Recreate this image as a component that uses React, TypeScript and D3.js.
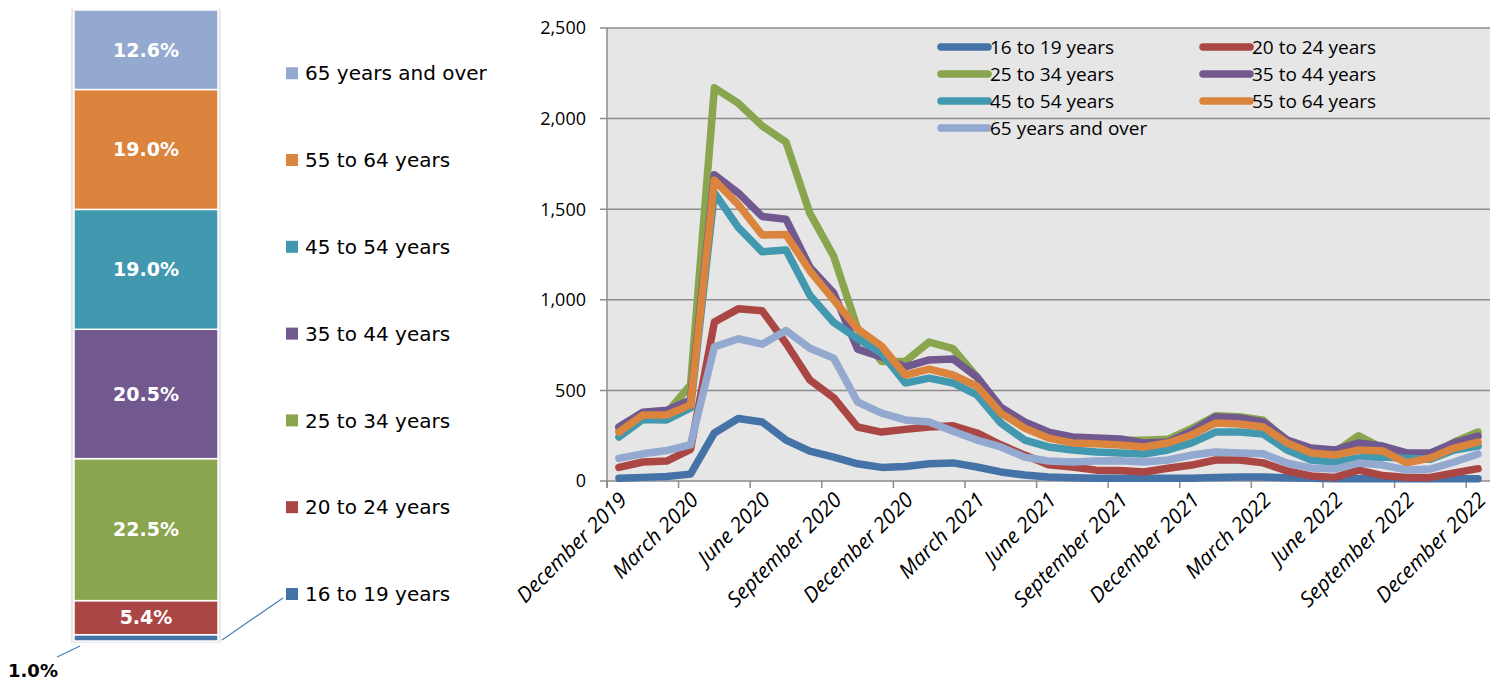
import * as d3 from 'd3';

// age groups, in stacking / legend order (bottom first)
const groups = ['16 to 19 years', '20 to 24 years', '25 to 34 years', '35 to 44 years', '45 to 54 years', '55 to 64 years', '65 years and over'];
const colors = ['#4572a7', '#aa4643', '#89a54e', '#71588f', '#4198af', '#db843d', '#93a9cf'];
const shares = [1.0, 5.4, 22.5, 20.5, 19.0, 19.0, 12.6];

const months = [
  'December 2019', 'January 2020', 'February 2020', 'March 2020', 'April 2020', 'May 2020', 'June 2020',
  'July 2020', 'August 2020', 'September 2020', 'October 2020', 'November 2020', 'December 2020',
  'January 2021', 'February 2021', 'March 2021', 'April 2021', 'May 2021', 'June 2021', 'July 2021',
  'August 2021', 'September 2021', 'October 2021', 'November 2021', 'December 2021', 'January 2022',
  'February 2022', 'March 2022', 'April 2022', 'May 2022', 'June 2022', 'July 2022', 'August 2022',
  'September 2022', 'October 2022', 'November 2022', 'December 2022',
];

const age16to19 = [15, 20, 25, 38, 265, 345, 326, 226, 165, 132, 95, 75, 80, 95, 100, 77, 50, 33, 22, 18, 15, 15, 15, 15, 15, 20, 22, 22, 18, 15, 12, 12, 12, 12, 12, 12, 12];
const age20to24 = [75, 105, 110, 175, 877, 950, 940, 760, 557, 460, 298, 270, 285, 298, 305, 265, 200, 143, 90, 77, 60, 58, 50, 70, 88, 116, 116, 100, 55, 28, 20, 60, 30, 20, 20, 45, 68];
const age25to34 = [290, 345, 375, 530, 2170, 2085, 1960, 1870, 1478, 1240, 840, 660, 660, 767, 730, 575, 400, 300, 255, 230, 225, 225, 225, 230, 290, 360, 355, 335, 220, 175, 160, 250, 180, 140, 145, 215, 270];
const age35to44 = [298, 380, 390, 447, 1690, 1590, 1460, 1445, 1180, 1037, 728, 685, 630, 668, 673, 574, 408, 326, 270, 243, 237, 232, 210, 215, 275, 353, 348, 326, 226, 182, 171, 210, 193, 155, 155, 210, 248];
const age45to54 = [243, 340, 337, 403, 1590, 1400, 1265, 1275, 1025, 875, 785, 706, 541, 568, 541, 475, 320, 226, 188, 171, 160, 155, 149, 171, 210, 270, 270, 259, 171, 116, 105, 127, 132, 125, 120, 171, 193];
const age55to64 = [270, 364, 364, 420, 1660, 1525, 1358, 1360, 1160, 1000, 840, 745, 585, 618, 585, 524, 375, 292, 237, 210, 205, 199, 188, 210, 254, 320, 315, 298, 210, 155, 143, 171, 166, 100, 127, 182, 215];
const age65plus = [125, 150, 168, 200, 740, 785, 755, 830, 733, 678, 436, 375, 337, 326, 275, 226, 188, 132, 110, 105, 110, 112, 105, 116, 143, 160, 155, 150, 99, 72, 66, 99, 88, 61, 66, 105, 149];

const series = [age16to19, age20to24, age25to34, age35to44, age45to54, age55to64, age65plus];
const yTicks = [0, 500, 1000, 1500, 2000, 2500];

const leftFont = "'DejaVu Sans', sans-serif";
const chartFont = "'Open Sans', 'Noto Sans', sans-serif";

export default function App() {
  // left stacked bar
  const barY = d3.scaleLinear().domain([0, 100]).range([641, 10]);
  const barX0 = 74;
  const barW = 144;
  let acc = 0;
  const stacks = shares.map((s, i) => {
    const y0 = acc;
    acc += s;
    return { i, y0, y1: acc, s };
  });

  // line chart
  const x = d3.scaleBand().domain(months).range([607, 1490]);
  const y = d3.scaleLinear().domain([0, 2500]).range([481, 28]);
  const cx = (m: string) => (x(m) as number) + x.bandwidth() / 2;
  const line = d3.line<number>().x((_, i) => cx(months[i])).y((d) => y(d));

  const legendRow = (i: number) => Math.floor(i / 2);
  const legendCol = (i: number) => i % 2;

  return (
    <svg width={1499} height={682} style={{ position: 'absolute', left: 0, top: 0, background: '#fff' }}>
      {/* bar shadow */}
      <rect x={barX0 - 3} y={barY(100) - 1} width={barW + 6} height={barY(0) - barY(100) + 3} fill="#e8e8e8" />
      {stacks.map((d) => (
        <rect key={d.i} x={barX0} y={barY(d.y1)} width={barW} height={barY(d.y0) - barY(d.y1)}
          fill={colors[d.i]} stroke="#fff" strokeWidth={1.5} />
      ))}
      {stacks.filter((d) => d.s > 2).map((d) => (
        <text key={d.i} x={barX0 + barW / 2} y={(barY(d.y0) + barY(d.y1)) / 2} dy="0.36em" textAnchor="middle"
          fill="#fff" fontFamily={leftFont} fontWeight="bold" fontSize={19}>{d.s.toFixed(1)}%</text>
      ))}
      <line x1={80} y1={646} x2={57} y2={657} stroke="#4a7ebb" strokeWidth={1.2} />
      <text x={8} y={677} fontFamily={leftFont} fontWeight="bold" fontSize={18} fill="#000">{shares[0].toFixed(1)}%</text>
      <line x1={222} y1={640} x2={283} y2={598} stroke="#4a7ebb" strokeWidth={1.2} />

      {/* left legend */}
      {groups.map((g, i) => {
        const ly = 594 - i * 86.8;
        return (
          <g key={g}>
            <rect x={286} y={ly - 6} width={12} height={12} fill={colors[i]} />
            <text x={305} y={ly} dy="0.36em" fontFamily={leftFont} fontSize={20} fill="#000">{g}</text>
          </g>
        );
      })}

      {/* plot area */}
      <rect x={607} y={28} width={883} height={453} fill="#e6e6e6" />
      {yTicks.map((t) => (
        <g key={t}>
          <line x1={600} x2={1490} y1={y(t)} y2={y(t)} stroke="#8c8c8c" strokeWidth={1.5} />
          <text x={586} y={y(t)} dy="0.35em" textAnchor="end" fontFamily={chartFont} fontSize={18} fill="#000">
            {d3.format(',')(t)}
          </text>
        </g>
      ))}
      <line x1={607} x2={607} y1={28} y2={488} stroke="#8c8c8c" strokeWidth={1.5} />
      {months.map((m, i) => i % 3 === 0 ? (
        <g key={m}>
          <line x1={x(m)} x2={x(m)} y1={481} y2={488} stroke="#8c8c8c" strokeWidth={1.5} />
          <text transform={`translate(${cx(m) + 4},${496}) rotate(-45)`} dy="0.35em" textAnchor="end"
            fontFamily={chartFont} fontStyle="italic" fontSize={21} fill="#000">{m}</text>
        </g>
      ) : null)}

      {series.map((s, i) => (
        <path key={groups[i]} d={line(s) as string} fill="none" stroke={colors[i]} strokeWidth={7.5}
          strokeLinejoin="round" strokeLinecap="round" />
      ))}

      {/* inner legend */}
      {groups.map((g, i) => {
        const lx = legendCol(i) === 0 ? 941 : 1203;
        const ly = 47 + legendRow(i) * 27;
        return (
          <g key={g}>
            <line x1={lx} x2={lx + 47} y1={ly} y2={ly} stroke={colors[i]} strokeWidth={7.5} strokeLinecap="round" />
            <text x={lx + 49} y={ly} dy="0.35em" fontFamily={chartFont} fontSize={19} fill="#000">{g}</text>
          </g>
        );
      })}
    </svg>
  );
}
